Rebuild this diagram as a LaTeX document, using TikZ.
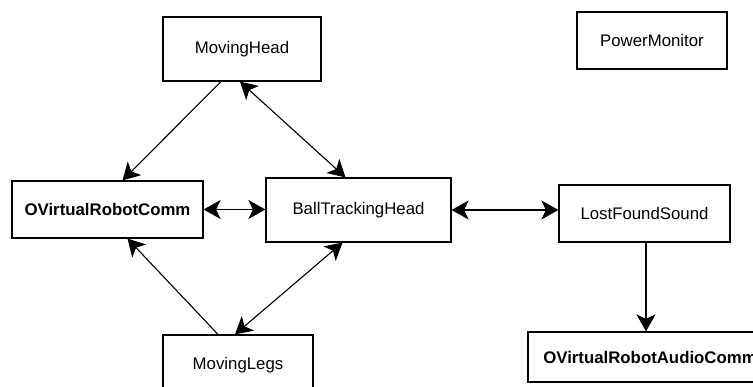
\documentclass[tikz,border=0pt]{standalone}
\usepackage{fontspec}
\setmainfont{Liberation Sans}
\usetikzlibrary{arrows.meta}
\begin{document}
\begin{tikzpicture}[x=1pt,y=-1pt,
  box/.style={draw, line width=1.2pt, inner sep=0pt, font=\fontsize{16.8}{20}\selectfont},
  bbox/.style={box, font=\fontsize{16.8}{20}\selectfont\bfseries},
  conn/.style={line width=1.1pt, >={Stealth[length=17pt,width=19pt,inset=4.5pt]}}]
\useasboundingbox (0,0) rectangle (753,387);
\node[box, minimum width=158pt, minimum height=64pt] (mh) at (242,49) {MovingHead};
\node[box, minimum width=150pt, minimum height=57pt] (pm) at (652,40.5) {PowerMonitor};
\node[bbox, minimum width=191pt, minimum height=57pt] (ovrc) at (107.5,209.5) {OVirtualRobotComm};
\node[box, minimum width=185pt, minimum height=64pt] (bth) at (358.5,210) {BallTrackingHead};
\node[box, minimum width=171pt, minimum height=57pt] (lfs) at (644.5,213.5) {LostFoundSound};
\node[bbox, minimum width=244pt, minimum height=50pt] (ovrac) at (650,357) {OVirtualRobotAudioComm};
\node[box, minimum width=150pt, minimum height=60pt] (ml) at (238,365) {MovingLegs};
\draw[conn,->] ([xshift=-21pt]mh.south) -- ([xshift=15pt]ovrc.north);
\draw[conn,<->] ([xshift=-2pt]mh.south) -- ([xshift=-13pt]bth.north);
\draw[conn,<->] (ovrc.east) -- (ovrc.east -| bth.west);
\draw[conn,<->] (bth.east) -- (bth.east -| lfs.west);
\draw[conn,->] ([xshift=1.5pt]lfs.south) -- ([xshift=1.5pt]lfs.south |- ovrac.north);
\draw[conn,->] ([xshift=-20pt]ml.north) -- ([xshift=20pt]ovrc.south);
\draw[conn,<->] ([xshift=-16pt]bth.south) -- ([xshift=-3pt]ml.north);
\end{tikzpicture}
\end{document}
